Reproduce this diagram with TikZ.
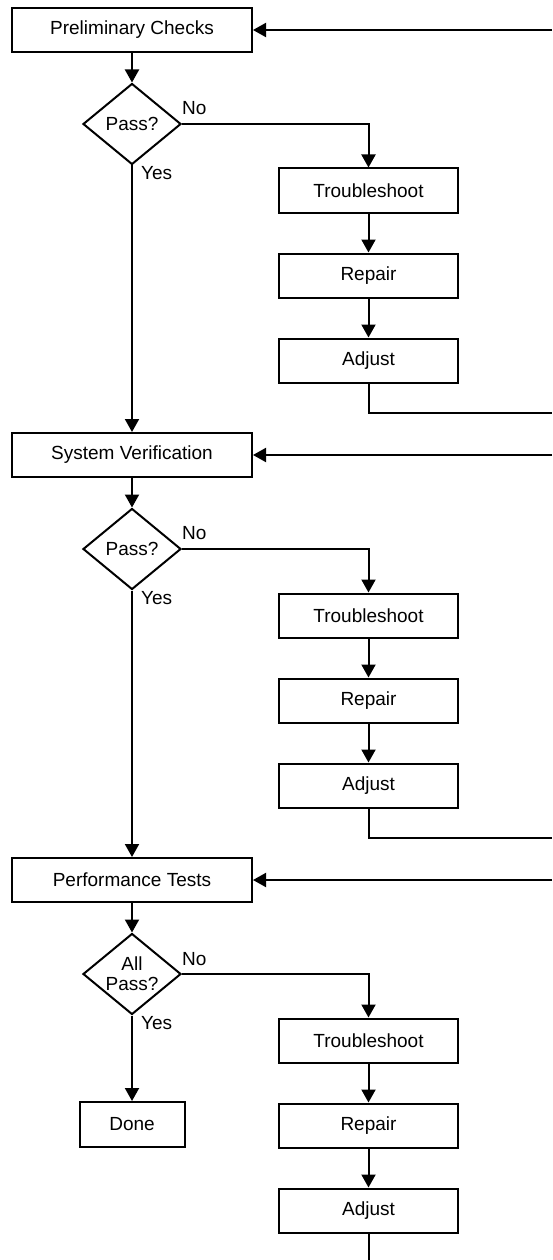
\documentclass[tikz,border=0pt]{standalone}
\usepackage{fontspec}
\setmainfont{Liberation Sans}
\usetikzlibrary{arrows.meta,shapes.geometric}

\tikzset{
  base/.style={draw, line width=2pt, inner sep=0pt, align=center,
    font=\fontsize{19}{20}\selectfont},
  mainbox/.style={base, rectangle, minimum width=240pt, minimum height=44pt},
  fixbox/.style={base, rectangle, minimum width=179pt, minimum height=44pt},
  endbox/.style={base, rectangle, minimum width=105pt, minimum height=45pt},
  decision/.style={base, diamond, minimum width=98pt, minimum height=81pt, inner sep=-3pt},
  flow/.style={line width=2pt, -{Triangle[length=13pt,width=14pt]}},
  plain/.style={line width=2pt},
  tag/.style={font=\fontsize{19}{20}\selectfont, anchor=west, inner sep=0pt}
}

\begin{document}
\begin{tikzpicture}[x=1pt, y=-1pt]
  \useasboundingbox (0,0) rectangle (552,1260);

  % ---- stage 1: preliminary checks ----
  \node[mainbox] (pc) at (132,30) {Preliminary Checks};
  \node[decision] (d1) at (132,124) {Pass?};
  \node[fixbox] (t1) at (368.5,190.5) {Troubleshoot};
  \node[fixbox] (r1) at (368.5,275.5) {Repair};
  \node[fixbox] (a1) at (368.5,360.5) {Adjust};
  \node[tag] (n1) at (182,108) {No};
  \node[tag] (y1) at (141,173) {Yes};

  % ---- stage 2: system verification ----
  \node[mainbox] (sv) at (132,455) {System Verification};
  \node[decision] (d2) at (132,549) {Pass?};
  \node[fixbox] (t2) at (368.5,615.5) {Troubleshoot};
  \node[fixbox] (r2) at (368.5,700.5) {Repair};
  \node[fixbox] (a2) at (368.5,785.5) {Adjust};
  \node[tag] (n2) at (182,533) {No};
  \node[tag] (y2) at (141,598) {Yes};

  % ---- stage 3: performance tests ----
  \node[mainbox] (pt) at (132,880) {Performance Tests};
  \node[decision] (d3) at (132,974) {All\\Pass?};
  \node[fixbox] (t3) at (368.5,1040.5) {Troubleshoot};
  \node[fixbox] (r3) at (368.5,1125.5) {Repair};
  \node[fixbox] (a3) at (368.5,1210.5) {Adjust};
  \node[endbox] (done) at (132,1124.5) {Done};
  \node[tag] (n3) at (182,959) {No};
  \node[tag] (y3) at (141,1023) {Yes};

  % loop-back ends running off the right edge
  \coordinate (in1) at (552,30);
  \coordinate (out1) at (552,413);
  \coordinate (in2) at (552,455);
  \coordinate (out2) at (552,838);
  \coordinate (in3) at (552,880);
  \coordinate (out3) at (368.5,1260);

  % ---- connectors ----
  \draw[flow] (in1) -- (pc.east);
  \draw[flow] (pc) -- (d1);
  \draw[flow] (d1.east) -| (t1.north);
  \draw[flow] (t1) -- (r1);
  \draw[flow] (r1) -- (a1);
  \draw[plain] (a1.south) |- (out1);
  \draw[flow] (d1.south) -- (sv.north);

  \draw[flow] (in2) -- (sv.east);
  \draw[flow] (sv) -- (d2);
  \draw[flow] (d2.east) -| (t2.north);
  \draw[flow] (t2) -- (r2);
  \draw[flow] (r2) -- (a2);
  \draw[plain] (a2.south) |- (out2);
  \draw[flow] (d2.south) -- (pt.north);

  \draw[flow] (in3) -- (pt.east);
  \draw[flow] (pt) -- (d3);
  \draw[flow] (d3.east) -| (t3.north);
  \draw[flow] (t3) -- (r3);
  \draw[flow] (r3) -- (a3);
  \draw[plain] (a3.south) -- (out3);
  \draw[flow] (d3.south) -- (done.north);
\end{tikzpicture}
\end{document}
